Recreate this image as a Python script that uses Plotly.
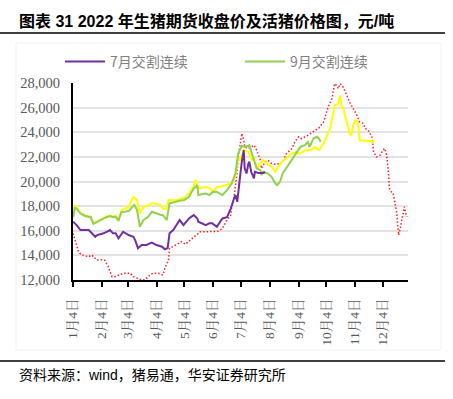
import plotly.graph_objects as go

# ---------------- data ----------------
tick_dates = ["2022-01-04", "2022-02-04", "2022-03-04", "2022-04-04", "2022-05-04", "2022-06-04",
              "2022-07-04", "2022-08-04", "2022-09-04", "2022-10-04", "2022-11-04", "2022-12-04"]
tick_text = ["1月4日", "2月4日", "3月4日", "4月4日", "5月4日", "6月4日",
             "7月4日", "8月4日", "9月4日", "10月4日", "11月4日", "12月4日"]

# 7月交割连续 (purple)
jul_dates = ["2022-01-04", "2022-01-08", "2022-01-12", "2022-01-21", "2022-01-28", "2022-01-30", "2022-02-06", "2022-02-13", "2022-02-16", "2022-02-19",
             "2022-02-22", "2022-02-27", "2022-03-05", "2022-03-10", "2022-03-12", "2022-03-15", "2022-03-19", "2022-03-24", "2022-03-30", "2022-04-04",
             "2022-04-10", "2022-04-13", "2022-04-16", "2022-04-18", "2022-04-22", "2022-04-24", "2022-04-27", "2022-04-29", "2022-05-03", "2022-05-09",
             "2022-05-14", "2022-05-18", "2022-05-19", "2022-05-27", "2022-05-31", "2022-06-03", "2022-06-08", "2022-06-14", "2022-06-19", "2022-06-23",
             "2022-06-26", "2022-06-28", "2022-06-30", "2022-07-01", "2022-07-03", "2022-07-05", "2022-07-07", "2022-07-08", "2022-07-10", "2022-07-12",
             "2022-07-13", "2022-07-15", "2022-07-18", "2022-07-19", "2022-07-23", "2022-07-28", "2022-07-30"]
jul_vals = [16730, 16460, 16060, 16060, 15510, 15650, 15790, 16060, 15790, 15800,
            15380, 15920, 15650, 15510, 15240, 14570, 14840, 14840, 15030, 14840,
            14700, 14490, 14600, 15790, 16060, 16320, 16730, 16870, 16460, 17000,
            17270, 17000, 16730, 16460, 16600, 16600, 16320, 17000, 17100, 17800,
            18500, 18900, 18350, 19200, 20380, 21650, 22540, 21060, 20650, 21460,
            21600, 20790, 20250, 20790, 20700, 20700, 20750]

# 9月交割连续 (green)
sep_dates = ["2022-01-04", "2022-01-06", "2022-01-08", "2022-01-12", "2022-01-17", "2022-01-23", "2022-01-26", "2022-01-30", "2022-02-04", "2022-02-09",
             "2022-02-13", "2022-02-16", "2022-02-19", "2022-02-22", "2022-02-25", "2022-03-01", "2022-03-05", "2022-03-09", "2022-03-11", "2022-03-14",
             "2022-03-17", "2022-03-21", "2022-03-26", "2022-03-30", "2022-04-04", "2022-04-08", "2022-04-11", "2022-04-15", "2022-04-18", "2022-04-24",
             "2022-04-30", "2022-05-04", "2022-05-09", "2022-05-14", "2022-05-18", "2022-05-19", "2022-05-27", "2022-05-31", "2022-06-04", "2022-06-08",
             "2022-06-14", "2022-06-19", "2022-06-24", "2022-06-28", "2022-07-01", "2022-07-05", "2022-07-08", "2022-07-12", "2022-07-13", "2022-07-18",
             "2022-07-21", "2022-07-25", "2022-07-26", "2022-07-28", "2022-08-02", "2022-08-06", "2022-08-10", "2022-08-12", "2022-08-15", "2022-08-18",
             "2022-08-24", "2022-08-29", "2022-09-03", "2022-09-06", "2022-09-09", "2022-09-11", "2022-09-14", "2022-09-16", "2022-09-20", "2022-09-24",
             "2022-09-26", "2022-09-28"]
sep_vals = [17100, 17850, 17800, 17400, 17200, 17100, 16550, 16700, 16950, 17100,
            17200, 17100, 17150, 16800, 17500, 17550, 17600, 17940, 18100, 17700,
            16320, 16870, 17130, 17540, 17400, 17300, 17270, 16870, 18220, 18350,
            18450, 18490, 18760, 19430, 19700, 18900, 19030, 18900, 19160, 19150,
            18900, 19300, 19840, 20650, 22270, 22900, 22800, 22900, 22950, 21730,
            21060, 20920, 20520, 20790, 20650, 20380, 19840, 19700, 19970, 20650,
            21330, 22000, 22540, 22810, 22900, 22950, 23220, 22810, 23490, 23630,
            23490, 23220]

# yellow contract series (no legend entry in the source)
yel_dates = ["2022-01-04", "2022-01-06", "2022-01-08", "2022-01-12", "2022-01-17", "2022-01-23", "2022-01-26", "2022-01-30", "2022-02-04", "2022-02-09",
             "2022-02-13", "2022-02-16", "2022-02-19", "2022-02-22", "2022-02-25", "2022-03-01", "2022-03-05", "2022-03-09", "2022-03-10", "2022-03-14",
             "2022-03-17", "2022-03-21", "2022-03-26", "2022-03-30", "2022-04-04", "2022-04-08", "2022-04-11", "2022-04-14", "2022-04-17", "2022-04-21",
             "2022-04-24", "2022-04-30", "2022-05-05", "2022-05-10", "2022-05-14", "2022-05-16", "2022-05-19", "2022-05-23", "2022-05-28", "2022-06-01",
             "2022-06-04", "2022-06-08", "2022-06-13", "2022-06-19", "2022-06-24", "2022-06-28", "2022-07-01", "2022-07-03", "2022-07-07", "2022-07-12",
             "2022-07-16", "2022-07-18", "2022-07-21", "2022-07-25", "2022-07-28", "2022-08-01", "2022-08-06", "2022-08-10", "2022-08-13", "2022-08-17",
             "2022-08-23", "2022-08-28", "2022-09-02", "2022-09-04", "2022-09-06", "2022-09-11", "2022-09-17", "2022-09-22", "2022-09-26", "2022-10-01",
             "2022-10-08", "2022-10-13", "2022-10-17", "2022-10-19", "2022-10-20", "2022-10-22", "2022-10-26", "2022-10-29", "2022-10-31", "2022-11-02",
             "2022-11-04", "2022-11-07", "2022-11-09", "2022-11-16", "2022-11-22", "2022-11-23", "2022-11-24"]
yel_vals = [17200, 18000, 17950, 17450, 17250, 17150, 16600, 16750, 17000, 17150,
            17250, 17150, 17200, 16870, 17650, 17800, 17950, 18600, 18750, 18500,
            17400, 17950, 18050, 18250, 18200, 18100, 17800, 17750, 18490, 18500,
            18450, 18630, 18700, 19150, 19600, 20150, 19450, 19500, 19550, 19400,
            19150, 19550, 19600, 19750, 19900, 20400, 22000, 21700, 22550, 22400,
            21700, 22000, 21050, 21450, 21750, 21450, 21200, 20800, 21200, 21600,
            22000, 22270, 22400, 22270, 22270, 22540, 22540, 22810, 22540, 23090,
            24300, 26190, 26330, 27000, 26190, 26000, 24840, 23900, 23760, 24570,
            24980, 24840, 23350, 23300, 23270, 23090, 23350]

# live hog price (red dotted)
hog_dates = ["2022-01-04", "2022-01-06", "2022-01-10", "2022-01-13", "2022-01-21", "2022-01-24", "2022-01-30", "2022-02-06", "2022-02-07", "2022-02-11",
             "2022-02-15", "2022-02-18", "2022-02-22", "2022-02-27", "2022-03-07", "2022-03-10", "2022-03-17", "2022-03-22", "2022-03-28", "2022-03-31",
             "2022-04-06", "2022-04-11", "2022-04-13", "2022-04-17", "2022-04-18", "2022-04-24", "2022-05-01", "2022-05-05", "2022-05-10", "2022-05-16",
             "2022-05-21", "2022-05-28", "2022-06-04", "2022-06-09", "2022-06-14", "2022-06-19", "2022-06-23", "2022-06-24", "2022-06-26", "2022-06-28",
             "2022-06-30", "2022-07-01", "2022-07-03", "2022-07-05", "2022-07-07", "2022-07-08", "2022-07-12", "2022-07-18", "2022-07-21", "2022-07-23",
             "2022-07-25", "2022-07-26", "2022-07-30", "2022-08-02", "2022-08-06", "2022-08-10", "2022-08-15", "2022-08-18", "2022-08-22", "2022-08-28",
             "2022-08-31", "2022-09-04", "2022-09-07", "2022-09-13", "2022-09-17", "2022-09-20", "2022-09-26", "2022-10-01", "2022-10-06", "2022-10-10",
             "2022-10-13", "2022-10-15", "2022-10-17", "2022-10-19", "2022-10-22", "2022-10-26", "2022-10-29", "2022-11-02", "2022-11-05", "2022-11-09",
             "2022-11-13", "2022-11-15", "2022-11-18", "2022-11-22", "2022-11-23", "2022-11-24", "2022-11-27", "2022-12-01", "2022-12-04", "2022-12-06",
             "2022-12-08", "2022-12-10", "2022-12-11", "2022-12-13", "2022-12-15", "2022-12-17", "2022-12-19", "2022-12-20", "2022-12-21", "2022-12-23",
             "2022-12-25", "2022-12-27", "2022-12-29", "2022-12-30"]
hog_vals = [15790, 15240, 14300, 14030, 13890, 14030, 13620, 13650, 13620, 13080,
            12270, 12270, 12410, 12540, 12540, 12270, 12060, 12000, 12410, 12540,
            12540, 12410, 12950, 13620, 14570, 14800, 15110, 14900, 15240, 15650,
            15920, 15920, 15950, 15950, 16190, 16900, 17270, 17900, 18500, 19700,
            20800, 22000, 23000, 23900, 23350, 22810, 22680, 22950, 22540, 22140,
            21730, 21060, 21600, 21730, 21460, 21400, 21460, 21600, 22270, 22680,
            23220, 23630, 23490, 23700, 23900, 24100, 24350, 24840, 26060, 26740,
            27950, 27800, 27550, 27950, 27680, 27000, 26460, 25920, 25520, 24840,
            24710, 24300, 24170, 23630, 23220, 22400, 22000, 22140, 22540, 22680,
            22140, 20650, 19430, 19160, 19030, 18220, 17410, 16320, 15650, 16320,
            17130, 17940, 17270, 17130]

# ---------------- figure ----------------
fig = go.Figure()
fig.add_trace(go.Scatter(x=hog_dates, y=hog_vals, mode="lines", name="活猪价格", showlegend=False,
                         line=dict(color="#FF2020", width=1.5, dash="1.5px,2px")))
fig.add_trace(go.Scatter(x=yel_dates, y=yel_vals, mode="lines", name="期货合约", showlegend=False,
                         line=dict(color="#FFFF00", width=2)))
fig.add_trace(go.Scatter(x=sep_dates, y=sep_vals, mode="lines", name="9月交割连续",
                         line=dict(color="#92D050", width=2)))
fig.add_trace(go.Scatter(x=jul_dates, y=jul_vals, mode="lines", name="7月交割连续",
                         line=dict(color="#7030A0", width=2)))

L, R, T, B = 73, 45, 83, 119
W, H = 453, 399
pw, ph = W - L - R, H - T - B


def px_x(p):
    return (p - L) / pw


def px_y(p):
    return (H - B - p) / ph


SANS = "Liberation Sans, Noto Sans CJK SC, sans-serif"

fig.update_layout(
    width=W, height=H,
    margin=dict(l=L, r=R, t=T, b=B, pad=0, autoexpand=False),
    paper_bgcolor="white", plot_bgcolor="white",
    showlegend=True,
    legend=dict(orientation="h", x=px_x(60), y=px_y(62), xanchor="left", yanchor="middle",
                font=dict(family="Noto Sans CJK SC", size=14, color="#7F7F7F"),
                itemwidth=40, entrywidth=125, entrywidthmode="pixels",
                bgcolor="rgba(0,0,0,0)", traceorder="reversed"),
    font=dict(family="Liberation Serif, Noto Sans CJK SC", color="#595959"),
)

fig.update_xaxes(
    type="date", range=["2022-01-04", "2022-12-31"], automargin=False,
    tickmode="array", tickvals=tick_dates, ticktext=tick_text,
    tickangle=-90, ticks="outside", ticklen=5, tickcolor="black", tickwidth=1.5,
    tickfont=dict(family="Liberation Serif, Noto Serif CJK SC, Noto Sans CJK SC", size=13.5, color="#595959"),
    showline=True, linecolor="black", linewidth=2,
    showgrid=False, zeroline=False, ticklabelstandoff=6,
)
fig.update_yaxes(
    range=[12000, 28000], dtick=2000, tick0=12000, tickformat=",", automargin=False,
    tickfont=dict(family="Liberation Serif", size=14.5, color="#595959"),
    showline=True, linecolor="black", linewidth=2,
    showgrid=True, gridcolor="#E3E3E3", gridwidth=1.5,
    zeroline=False, ticks="", ticklabelstandoff=8,
)

# title, rules, source, faint frame
fig.add_annotation(text="<b>图表 31 2022 年生猪期货收盘价及活猪价格图，元/吨</b>",
                   xref="paper", yref="paper", x=px_x(17), y=px_y(21), xanchor="left", yanchor="middle",
                   showarrow=False, font=dict(family=SANS, size=16, color="black"))
fig.add_annotation(text="资料来源：wind，猪易通，华安证券研究所",
                   xref="paper", yref="paper", x=px_x(17), y=px_y(375), xanchor="left", yanchor="middle",
                   showarrow=False, font=dict(family=SANS, size=14, color="black"))
fig.add_shape(type="line", xref="paper", yref="paper", x0=px_x(0), x1=px_x(445), y0=px_y(33), y1=px_y(33),
              line=dict(color="black", width=1.5))
fig.add_shape(type="line", xref="paper", yref="paper", x0=px_x(0), x1=px_x(445), y0=px_y(361), y1=px_y(361),
              line=dict(color="black", width=1.5))
fig.add_shape(type="rect", xref="paper", yref="paper", x0=px_x(16), x1=px_x(441), y0=px_y(43), y1=px_y(350),
              line=dict(color="#F2F2F2", width=1), layer="below")

fig.write_html("out.html", config={"displayModeBar": False},
               post_script="document.body.style.margin='0px';document.body.style.overflow='hidden';")
